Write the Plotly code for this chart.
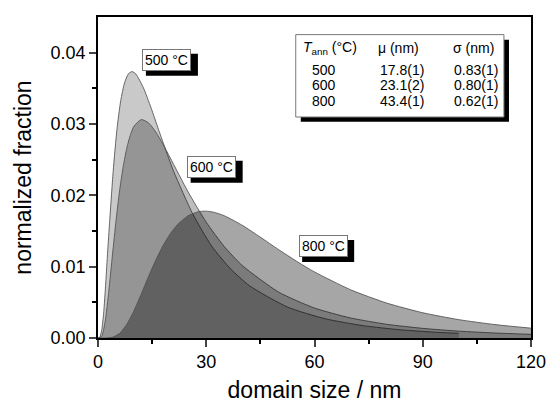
import plotly.graph_objects as go

# ---- data ----
x_500 = [0, 0.5, 1.05, 1.6, 2.1, 2.6, 3.15, 4.2, 5.25, 6.3, 7.35, 8.4, 9.45, 10.5, 12.6, 14.7, 16.8, 18.9, 21,
         26.3, 31.5, 36.8, 42, 52.5, 63, 73.5, 84, 94.5, 100]
y_500 = [0, 0.0001, 0.00115, 0.0037, 0.00734, 0.0115, 0.01573, 0.02335, 0.02923, 0.03328, 0.03576, 0.03701,
         0.03735, 0.03700, 0.03506, 0.03227, 0.02919, 0.02617, 0.02331, 0.01735, 0.01288, 0.00966, 0.00732,
         0.00434, 0.00269, 0.00173, 0.00114, 0.00078, 0.00066]

x_600 = [0, 1, 2, 3, 4, 5, 6, 7, 8, 9, 10, 12, 14, 16, 18, 20, 25, 30, 35, 40, 50, 60, 70, 80, 90, 100, 110, 120]
y_600 = [0, 0.00023, 0.00239, 0.00661, 0.01162, 0.01648, 0.02070, 0.02409, 0.02667, 0.02851, 0.02971, 0.03062,
         0.03016, 0.02889, 0.02718, 0.02527, 0.02045, 0.01623, 0.01282, 0.01015, 0.00645, 0.00420, 0.00281,
         0.00192, 0.00135, 0.00096, 0.00070, 0.00051]

x_800 = [0, 2, 4, 6, 8, 10, 12, 14, 16, 18, 20, 22, 25, 28, 30, 32, 35, 40, 45, 50, 55, 60, 70, 80, 90, 100, 110, 120]
y_800 = [0, 0.0, 0.0001, 0.00065, 0.00193, 0.00386, 0.00618, 0.00861, 0.01090, 0.01292, 0.01459, 0.01588,
         0.01715, 0.01772, 0.01778, 0.01764, 0.01714, 0.01579, 0.01413, 0.01241, 0.01077, 0.00926, 0.00676,
         0.00490, 0.00354, 0.00257, 0.00188, 0.00138]

curve_labels = ["500 °C", "600 °C", "800 °C"]
label_x = [19.1, 31.5, 62.4]
label_y = [0.0390, 0.0240, 0.0129]

table_header = ["<i>T</i><sub>ann</sub> (°C)", "μ (nm)", "σ (nm)"]
table_T = ["500", "600", "800"]
table_mu = ["17.8(1)", "23.1(2)", "43.4(1)"]
table_sigma = ["0.83(1)", "0.80(1)", "0.62(1)"]

FONT = "Arial, Liberation Sans, sans-serif"

fig = go.Figure()
series = [(x_500, y_500, "rgba(0,0,0,0.21)"),
          (x_600, y_600, "rgba(0,0,0,0.26)"),
          (x_800, y_800, "rgba(0,0,0,0.35)")]
for xs, ys, fc in series:
    fig.add_trace(go.Scatter(x=xs, y=ys, mode="lines", fill="tozeroy", fillcolor=fc,
                             line=dict(color="rgba(80,80,80,0.85)", width=1, shape="spline", smoothing=0.6),
                             showlegend=False, hoverinfo="skip"))

anns = []
shapes = []
# curve labels with black drop shadow (shadow drawn as a pixel-sized rect)
for t, lx, ly in zip(curve_labels, label_x, label_y):
    shapes.append(dict(type="rect", xref="x", yref="y", xsizemode="pixel", ysizemode="pixel",
                       xanchor=lx, yanchor=ly, x0=-26 + 5, x1=26 + 5, y0=-11 - 5, y1=11 - 5,
                       fillcolor="black", line=dict(width=0), layer="above"))
    anns.append(dict(x=lx, y=ly, xref="x", yref="y", text=t, showarrow=False,
                     font=dict(family=FONT, size=14, color="black"), bgcolor="white",
                     bordercolor="#777777", borderwidth=1, borderpad=2))

# table
hdr_y = 0.04066
row_y = [0.03761, 0.03541, 0.03316]
hdr_x = [56.2, 77.1, 97.7]
col_x = [58.8, 77.6, 98.2]
for t, hx in zip(table_header, hdr_x):
    anns.append(dict(x=hx, y=hdr_y, xref="x", yref="y", text=t, showarrow=False, xanchor="left",
                     font=dict(family=FONT, size=14, color="black")))
for col, cx in zip([table_T, table_mu, table_sigma], col_x):
    for v, ry in zip(col, row_y):
        anns.append(dict(x=cx, y=ry, xref="x", yref="y", text=v, showarrow=False, xanchor="left",
                         font=dict(family=FONT, size=14, color="black")))

shapes += [
    dict(type="rect", xref="x", yref="y", x0=56.2, x1=113.9, y0=0.0303, y1=0.0418,
         fillcolor="black", line=dict(width=0), layer="above"),
    dict(type="rect", xref="x", yref="y", x0=54.8, x1=112.5, y0=0.03098, y1=0.04253,
         fillcolor="white", line=dict(color="#777777", width=1), layer="above"),
]

fig.update_layout(
    width=548, height=403,
    margin=dict(l=98, r=17, t=17, b=65),
    paper_bgcolor="white", plot_bgcolor="white",
    annotations=anns, shapes=shapes,
    font=dict(family=FONT, color="black"),
)
fig.update_xaxes(range=[0, 120], tickvals=[0, 30, 60, 90, 120], ticks="outside", ticklen=7, tickwidth=1.5,
                 tickfont=dict(size=18, family=FONT), showline=True, linecolor="black", linewidth=1.5,
                 mirror=True, showgrid=False, zeroline=False, automargin=False,
                 minor=dict(tickvals=[15, 45, 75, 105], ticks="outside", ticklen=4, tickwidth=1.5, tickcolor="black"),
                 title=dict(text="domain size / nm", font=dict(size=23, family=FONT), standoff=11))
fig.update_yaxes(range=[0, 0.045], tickvals=[0, 0.01, 0.02, 0.03, 0.04], tickformat=".2f", ticks="outside",
                 ticklen=7, tickwidth=1.5, tickfont=dict(size=18, family=FONT), showline=True,
                 linecolor="black", linewidth=1.5, mirror=True, showgrid=False, zeroline=False, automargin=False,
                 minor=dict(tickvals=[0.005, 0.015, 0.025, 0.035], ticks="outside", ticklen=4, tickwidth=1.5,
                            tickcolor="black"),
                 title=dict(text="normalized fraction", font=dict(size=23, family=FONT), standoff=13))

fig.write_html("out.html")
